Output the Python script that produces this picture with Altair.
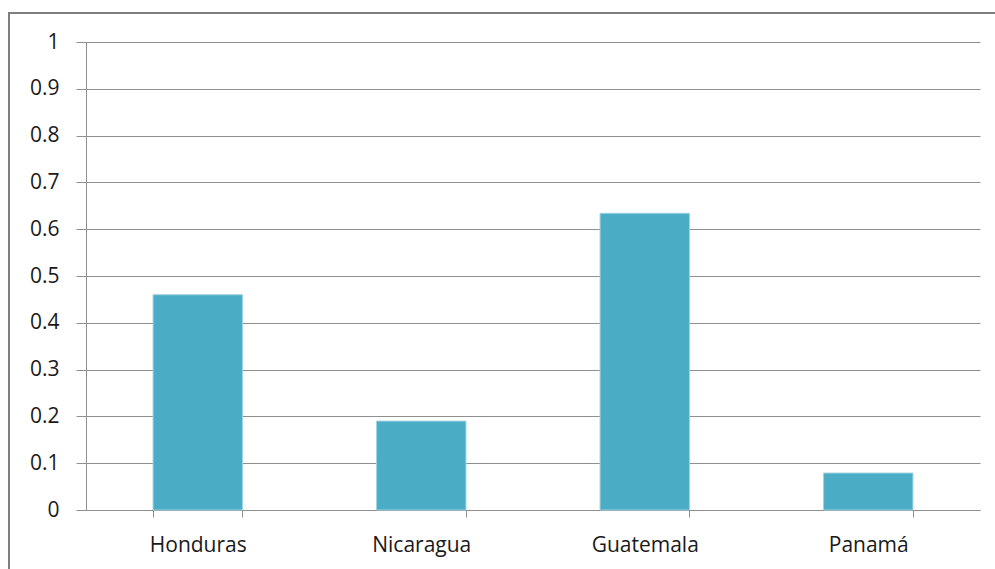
import altair as alt
import pandas as pd

countries = ["Honduras", "Nicaragua", "Guatemala", "Panamá"]
values = [0.46, 0.19, 0.634, 0.079]
y_ticks = [0, 0.1, 0.2, 0.3, 0.4, 0.5, 0.6, 0.7, 0.8, 0.9, 1]

df = pd.DataFrame({"country": countries, "value": values})

FONT = "Open Sans"
GRID = "#8f8f8f"
TEXT = "#1a1a1a"

bars = alt.Chart(df).mark_bar(color="#4BACC6", stroke="#9fd3e0", strokeWidth=1).encode(
    x=alt.X(
        "country:N",
        sort=countries,
        title=None,
        scale=alt.Scale(paddingInner=0.6, paddingOuter=0.3),
        axis=alt.Axis(
            labelAngle=0,
            labelFont=FONT,
            labelFontSize=21,
            labelColor=TEXT,
            labelPadding=17,
            tickBand="extent",
            tickSize=7,
            tickColor=GRID,
            domainColor=GRID,
            grid=False,
        ),
    ),
    y=alt.Y(
        "value:Q",
        title=None,
        scale=alt.Scale(domain=[0, 1], nice=False),
        axis=alt.Axis(
            values=y_ticks,
            format="~g",
            labelFont=FONT,
            labelFontSize=21,
            labelColor=TEXT,
            labelPadding=17,
            tickSize=10,
            tickColor=GRID,
            domainColor=GRID,
            gridColor=GRID,
            labelFlush=False,
        ),
    ),
)

# outer chart border
frame = alt.Chart(df).mark_rect(
    fill=None, stroke="#7f7f7f", strokeWidth=2, clip=False
).encode(
    x=alt.value(-77),
    x2=alt.value(1100),
    y=alt.value(-29),
    y2=alt.value(800),
)

chart = (
    alt.layer(frame, bars)
    .properties(
        width=894,
        height=468,
        padding={"left": 86, "top": 42, "right": 15, "bottom": 59},
        autosize=alt.AutoSizeParams(type="none"),
        background="white",
    )
    .configure_view(stroke=None)
)

chart.save("out.html", embed_options={"renderer": "svg", "actions": False})
